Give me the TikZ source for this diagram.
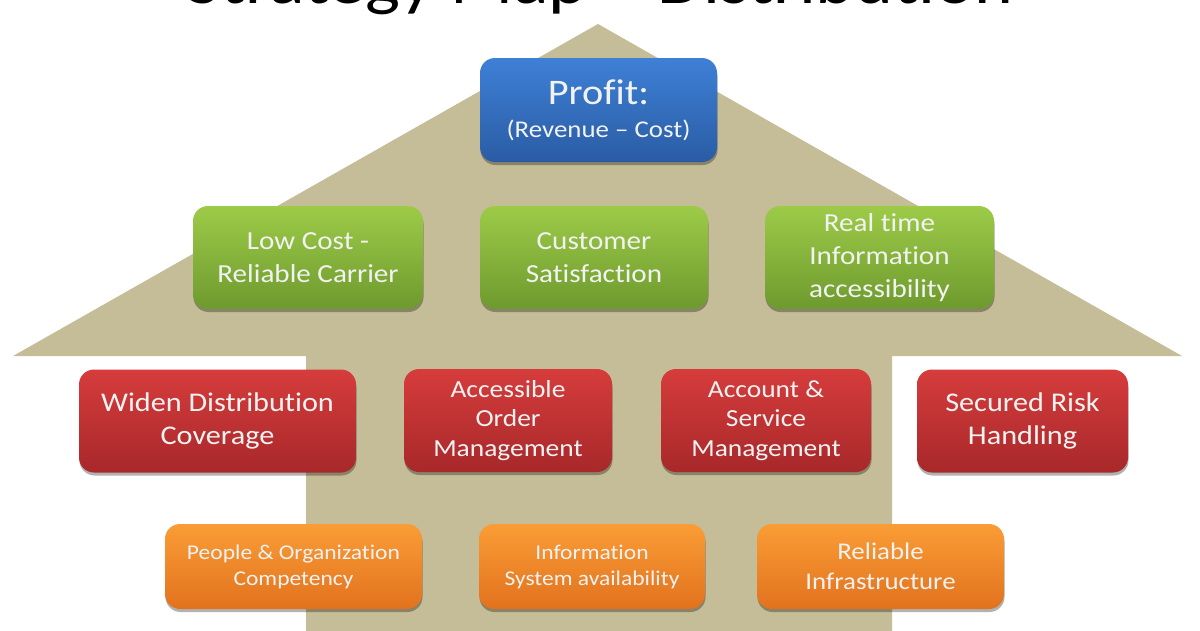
\documentclass[tikz,border=0pt]{standalone}
\usepackage{fontspec}
\setmainfont[FakeStretch=1.12, Ligatures=NoCommon]{Carlito}
\usetikzlibrary{shadows}
\definecolor{houseTan}{HTML}{C4BD97}
\definecolor{blueTop}{HTML}{3E80D6}
\definecolor{blueBot}{HTML}{2A5CA4}
\definecolor{greenTop}{HTML}{9DCB48}
\definecolor{greenBot}{HTML}{6E9A2E}
\definecolor{redTop}{HTML}{D63C3C}
\definecolor{redBot}{HTML}{A8282A}
\definecolor{orangeTop}{HTML}{FA9D36}
\definecolor{orangeBot}{HTML}{E2721E}
\tikzset{
  mapbox/.style={rounded corners=15pt, inner sep=0pt, align=center,
    text=white!95!black, minimum height=103pt,
    drop shadow={opacity=0.3, shadow xshift=0.5pt, shadow yshift=-3pt, fill=black}},
  profitbox/.style={mapbox, top color=blueTop, bottom color=blueBot, minimum height=104pt},
  custbox/.style={mapbox, top color=greenTop, bottom color=greenBot,
    font=\fontsize{26}{33}\selectfont},
  procbox/.style={mapbox, top color=redTop, bottom color=redBot},
  learnbox/.style={mapbox, top color=orangeTop, bottom color=orangeBot, minimum height=85pt},
}
\begin{document}
\begin{tikzpicture}[x=1pt, y=-1pt]
		%%%%% START %%%%%
		\useasboundingbox (0, 0) rectangle (1200, 630);
		\clip (0, 0) rectangle (1200, 630);
		\fill[white] (0, 0) rectangle (1200, 630);
		
		\node[anchor=base, font=\fontsize{66}{66}\selectfont] (title) at (600, 3) {Strategy Map – Distribution};
		
		\fill[houseTan] (598, 24) -- (1182, 356) -- (892, 356) -- (892, 640) -- (306, 640) -- (306, 356) -- (13, 356) -- cycle;
		
		\node[profitbox, minimum width=237pt, font=\fontsize{24}{33}\selectfont] (profit) at (598.5, 110) {\raisebox{-3pt}{\fontsize{36}{40}\selectfont Profit:}\\[0pt]\raisebox{-3pt}{(Revenue – Cost)}};
		
		\node[custbox, minimum width=230pt] (lowcost) at (308, 257.5) {Low Cost -\\Reliable Carrier};
		\node[custbox, minimum width=228pt] (custsat) at (594, 257.5) {Customer\\Satisfaction};
		\node[custbox, minimum width=229pt] (realtime) at (879.5, 257.5) {Real time\\Information\\accessibility};
		
		\node[procbox, minimum width=277pt, font=\fontsize{27}{33}\selectfont] (widen) at (217.5, 421) {Widen Distribution\\Coverage};
		\node[procbox, minimum width=208pt, font=\fontsize{24.5}{29.5}\selectfont] (orders) at (508, 420.5) {Accessible\\Order\\Management};
		\node[procbox, minimum width=210pt, font=\fontsize{24.5}{29.5}\selectfont] (account) at (766, 420.5) {Account \&\\Service\\Management};
		\node[procbox, minimum width=211pt, font=\fontsize{27}{33}\selectfont] (risk) at (1022.5, 421) {Secured Risk\\Handling};
		
		\node[learnbox, minimum width=257pt, font=\fontsize{21}{26}\selectfont] (people) at (293.5, 566.5) {People \& Organization\\Competency};
		\node[learnbox, minimum width=226pt, font=\fontsize{21}{26}\selectfont] (infosys) at (592, 566.5) {Information\\System availability};
		\node[learnbox, minimum width=247pt, font=\fontsize{24}{30}\selectfont] (infra) at (880.5, 566.5) {Reliable\\Infrastructure};
		%%%%% END %%%%%
\end{tikzpicture}
\end{document}
